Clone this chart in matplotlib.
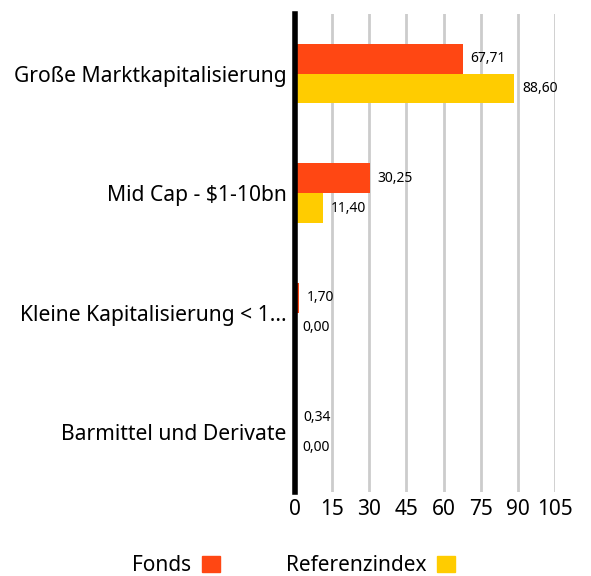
import numpy as np
import matplotlib
matplotlib.use('Agg')
import matplotlib.pyplot as plt
from matplotlib.patches import Patch

plt.rcParams['font.family'] = ['Noto Sans', 'DejaVu Sans']

categories = ['Große Marktkapitalisierung', 'Mid Cap - $1-10bn',
              'Kleine Kapitalisierung < 1...', 'Barmittel und Derivate']
fonds = [67.71, 30.25, 1.70, 0.34]
referenz = [88.60, 11.40, 0.00, 0.00]
xticks = [0, 15, 30, 45, 60, 75, 90, 105]

c_fonds = '#FF4713'
c_ref = '#FFCC00'

fig = plt.figure(figsize=(5.91, 5.76), dpi=100)
ax = fig.add_axes([0.499, 0.146, 0.44, 0.830])

y = np.arange(len(categories))
h = 0.25
ax.barh(y - h/2, fonds, height=h, color=c_fonds, zorder=3)
ax.barh(y + h/2, referenz, height=h, color=c_ref, zorder=3)

def fmt(v):
    return f'{v:.2f}'.replace('.', ',')

for i in range(len(categories)):
    ax.text(fonds[i] + 3.2, y[i] - h/2, fmt(fonds[i]), va='center', ha='left', fontsize=10)
    ax.text(referenz[i] + 3.2, y[i] + h/2, fmt(referenz[i]), va='center', ha='left', fontsize=10)

ax.set_ylim(3.5, -0.5)
ax.set_xlim(0, 105)
ax.set_yticks(y)
ax.set_yticklabels(categories, fontsize=15.2)
ax.set_xticks(xticks)
ax.set_xticklabels([str(t) for t in xticks], fontsize=15)
ax.tick_params(axis='both', length=0)
ax.tick_params(axis='y', pad=6)
ax.tick_params(axis='x', pad=5)

ax.grid(axis='x', color='#cccccc', linewidth=2, zorder=0)
for s in ['top', 'right', 'bottom']:
    ax.spines[s].set_visible(False)
ax.spines['left'].set_linewidth(4)
ax.spines['left'].set_color('black')
ax.spines['left'].set_zorder(5)

handles = [Patch(color=c_fonds, label='Fonds'), Patch(color=c_ref, label='Referenzindex')]
fig.legend(handles=handles, loc='lower center', bbox_to_anchor=(0.497, -0.033), ncol=2,
           frameon=False, markerfirst=False, fontsize=15, handlelength=0.87, handleheight=0.87,
           columnspacing=3.2, handletextpad=0.5)

fig.savefig('out.png', dpi=100)
